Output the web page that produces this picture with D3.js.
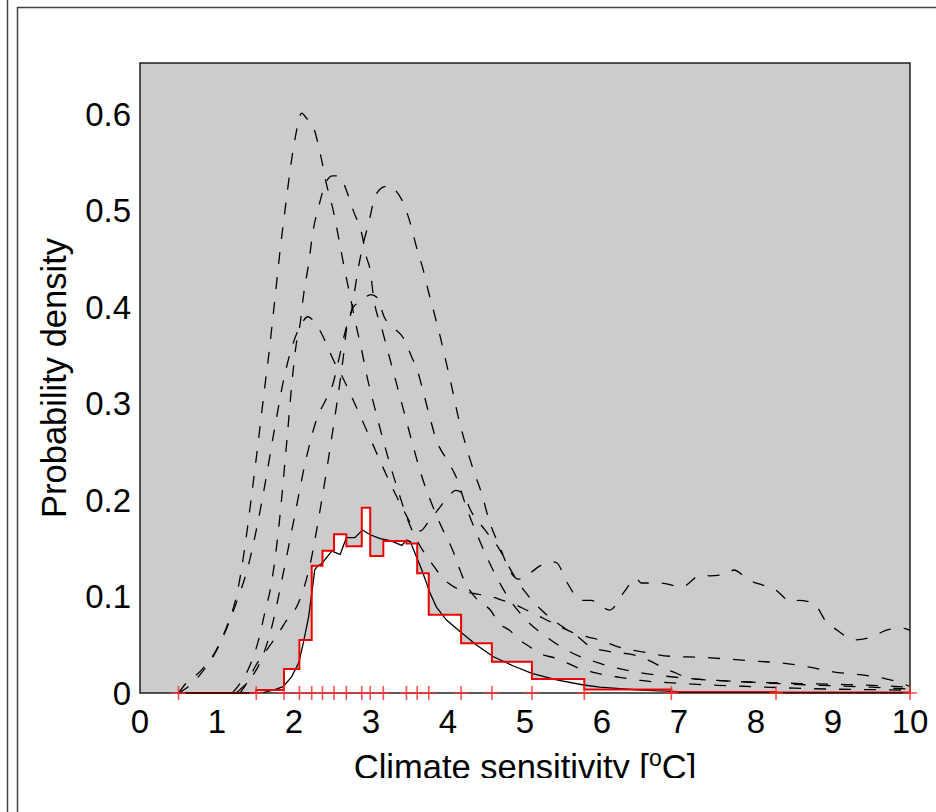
<!DOCTYPE html>
<html><head><meta charset="utf-8">
<script src="https://cdn.jsdelivr.net/npm/d3@7"></script>
<style>body{margin:0;background:#fff}svg{display:block}text{font-family:"Liberation Sans",Arial,sans-serif;fill:#000}</style>
</head><body>
<svg id="c" width="936" height="812"></svg>
<script>
// ---- data ----
const xTicks = [0,1,2,3,4,5,6,7,8,9,10];
const yTicks = [0,0.1,0.2,0.3,0.4,0.5,0.6];
const yTickLabels = ["0","0.1","0.2","0.3","0.4","0.5","0.6"];
const binEdges = [0.5,1.51,1.87,2.07,2.23,2.37,2.52,2.68,2.88,2.99,3.16,3.46,3.60,3.75,4.17,4.57,5.09,5.77,6.90,8.26,10.0];
const binValues = [0,0.003,0.025,0.055,0.132,0.1475,0.1645,0.152,0.192,0.142,0.1575,0.155,0.124,0.081,0.0515,0.0325,0.0145,0.0035,0.001,0.0005];
const fitCurve = [[1.5,0],[1.6,0.0005],[1.73,0.003],[1.86,0.0065],[1.97,0.017],[2.06,0.031],[2.12,0.0515],[2.19,0.079],[2.23,0.103],[2.27,0.128],[2.32,0.1325],[2.36,0.134],[2.42,0.14],[2.49,0.147],[2.6,0.1437],[2.68,0.161],[2.79,0.161],[2.89,0.169],[2.99,0.164],[3.12,0.16],[3.25,0.158],[3.4,0.153],[3.46,0.1585],[3.51,0.157],[3.57,0.145],[3.66,0.1275],[3.77,0.103],[3.85,0.089],[3.98,0.0756],[4.16,0.0635],[4.37,0.0497],[4.59,0.0376],[4.85,0.028],[5.09,0.0204],[5.41,0.0135],[5.76,0.0083],[5.97,0.006],[6.5,0.003],[7,0.0015],[8,0.0005],[10,0.0001]];
const curveA = [[0.5,0],[0.56,0.0065],[0.8,0.024],[1.0,0.046],[1.15,0.074],[1.26,0.103],[1.35,0.145],[1.45,0.205],[1.55,0.27],[1.62,0.317],[1.67,0.349],[1.75,0.407],[1.82,0.459],[1.9,0.511],[1.95,0.542],[2.01,0.573],[2.1,0.601],[2.16,0.596],[2.25,0.587],[2.36,0.552],[2.42,0.528],[2.51,0.5],[2.6,0.463],[2.66,0.438],[2.73,0.411],[2.79,0.387],[2.88,0.355],[2.94,0.331],[3.05,0.295],[3.2,0.25],[3.35,0.21],[3.5,0.175],[3.64,0.152],[3.73,0.141],[3.82,0.131],[3.93,0.119],[4.04,0.112],[4.22,0.105],[4.35,0.103],[4.55,0.1],[4.71,0.096],[4.89,0.091],[5.02,0.086],[5.25,0.077],[5.5,0.067],[5.64,0.062],[5.82,0.058],[5.97,0.055],[6.2,0.048],[6.5,0.043],[6.9,0.038],[7.3,0.037],[7.66,0.035],[8.0,0.033],[8.35,0.031],[8.68,0.027],[9.0,0.022],[9.35,0.019],[9.7,0.0145],[9.9,0.01],[10,0.0065]];
const curveB = [[1.2,0],[1.3,0.01],[1.43,0.029],[1.54,0.055],[1.62,0.083],[1.71,0.115],[1.8,0.17],[1.9,0.255],[1.99,0.335],[2.03,0.362],[2.08,0.383],[2.12,0.41],[2.19,0.445],[2.25,0.48],[2.32,0.504],[2.42,0.53],[2.5,0.536],[2.58,0.536],[2.62,0.533],[2.68,0.521],[2.77,0.5],[2.88,0.476],[2.94,0.452],[2.99,0.438],[3.03,0.412],[3.15,0.375],[3.3,0.33],[3.45,0.285],[3.55,0.255],[3.65,0.227],[3.77,0.2],[3.9,0.175],[4.05,0.15],[4.22,0.115],[4.4,0.095],[4.55,0.086],[4.66,0.0725],[4.8,0.065],[4.93,0.055],[5.06,0.048],[5.19,0.041],[5.4,0.036],[5.55,0.031],[5.7,0.0256],[5.86,0.022],[6.04,0.0187],[6.2,0.0166],[6.5,0.013],[7.0,0.01],[7.5,0.008],[8,0.0065],[8.5,0.005],[9,0.004],[9.5,0.0035],[10,0.003]];
const curveC = [[1.3,0],[1.4,0.012],[1.5,0.028],[1.65,0.045],[1.8,0.062],[1.9,0.075],[2.05,0.092],[2.2,0.13],[2.35,0.195],[2.5,0.27],[2.6,0.324],[2.64,0.348],[2.68,0.376],[2.75,0.397],[2.79,0.418],[2.83,0.438],[2.9,0.466],[2.97,0.487],[3.05,0.514],[3.15,0.524],[3.25,0.526],[3.33,0.52],[3.42,0.508],[3.51,0.487],[3.59,0.4625],[3.68,0.438],[3.74,0.418],[3.81,0.397],[3.9,0.369],[3.98,0.3415],[4.05,0.317],[4.13,0.287],[4.22,0.26],[4.33,0.231],[4.44,0.206],[4.53,0.18],[4.69,0.148],[4.8,0.127],[4.92,0.118],[5.06,0.124],[5.2,0.132],[5.35,0.136],[5.41,0.135],[5.55,0.114],[5.73,0.096],[5.86,0.096],[6.1,0.086],[6.29,0.105],[6.44,0.119],[6.51,0.114],[6.75,0.114],[7.04,0.11],[7.28,0.122],[7.4,0.1215],[7.64,0.124],[7.71,0.1275],[7.91,0.117],[8.08,0.112],[8.22,0.1085],[8.48,0.094],[8.55,0.096],[8.75,0.093],[8.91,0.074],[9.02,0.067],[9.3,0.055],[9.5,0.058],[9.73,0.066],[9.9,0.067],[10,0.065]];
const curveD = [[1.25,0],[1.4,0.012],[1.55,0.03],[1.7,0.065],[1.85,0.12],[2.0,0.18],[2.15,0.24],[2.3,0.285],[2.42,0.305],[2.5,0.319],[2.58,0.345],[2.66,0.373],[2.77,0.4],[2.85,0.405],[3.0,0.413],[3.08,0.41],[3.17,0.39],[3.3,0.378],[3.42,0.368],[3.53,0.348],[3.6,0.335],[3.66,0.318],[3.75,0.29],[3.85,0.262],[4.0,0.24],[4.1,0.225],[4.25,0.19],[4.4,0.16],[4.6,0.125],[4.8,0.097],[5.0,0.077],[5.3,0.057],[5.6,0.042],[6.0,0.03],[6.5,0.021],[7,0.016],[7.5,0.013],[8,0.011],[8.5,0.01],[9,0.009],[9.5,0.008],[10,0.006]];
const curveE = [[0.5,0],[0.6,0.005],[0.78,0.019],[1.02,0.048],[1.17,0.076],[1.28,0.1],[1.39,0.127],[1.5,0.165],[1.62,0.215],[1.75,0.275],[1.88,0.33],[2.0,0.365],[2.1,0.383],[2.18,0.39],[2.27,0.384],[2.38,0.369],[2.44,0.358],[2.53,0.342],[2.6,0.332],[2.8,0.298],[3.0,0.262],[3.2,0.226],[3.42,0.19],[3.55,0.172],[3.64,0.168],[3.75,0.178],[3.87,0.19],[4.0,0.203],[4.1,0.21],[4.2,0.206],[4.29,0.19],[4.48,0.169],[4.66,0.15],[4.84,0.124],[5.0,0.105],[5.2,0.087],[5.5,0.068],[5.69,0.058],[5.85,0.048],[6.1,0.043],[6.44,0.039],[6.6,0.034],[6.8,0.026],[6.95,0.021],[7.15,0.015],[7.5,0.013],[8.0,0.011],[8.5,0.009],[9,0.0075],[9.5,0.006],[10,0.004]];
const dashedCurves = [curveA, curveB, curveC, curveD, curveE];

// ---- layout ----
const svg = d3.select("#c");
const L = 140, R = 910, T = 63, B = 693;
const x = d3.scaleLinear().domain([0,10]).range([L,R]);
const y = d3.scaleLinear().domain([0,0.653]).range([B,T]);

// outer frame lines
svg.append("line").attr("x1",7.5).attr("x2",7.5).attr("y1",0).attr("y2",812).attr("stroke","#444").attr("stroke-width",1.5);
svg.append("path").attr("d","M17.5,812V7.5H936").attr("fill","none").attr("stroke","#444").attr("stroke-width",1.5);

const defs = svg.append("defs");
defs.append("clipPath").attr("id","plot").append("rect").attr("x",L).attr("y",T).attr("width",R-L).attr("height",B-T);
defs.append("clipPath").attr("id","xt").append("rect").attr("x",0).attr("y",0).attr("width",936).attr("height",778);

svg.append("rect").attr("x",L).attr("y",T).attr("width",R-L).attr("height",B-T).attr("fill","#cccccc");

const g = svg.append("g").attr("clip-path","url(#plot)");

// histogram
const histPts = binValues.map((v,i)=>[binEdges[i],v]);
histPts.push([binEdges[binEdges.length-1], binValues[binValues.length-1]]);
g.append("path").datum(histPts)
  .attr("d", d3.area().x(d=>x(d[0])).y0(y(0)).y1(d=>y(d[1])).curve(d3.curveStepAfter))
  .attr("fill","#fff");

// dashed curves
const lineGen = d3.line().x(d=>x(d[0])).y(d=>y(d[1])).curve(d3.curveMonotoneX);
g.selectAll("path.dash").data(dashedCurves).join("path").attr("class","dash")
  .attr("d", lineGen).attr("fill","none").attr("stroke","#000").attr("stroke-width",1.3).attr("stroke-dasharray","12,13");

// fitted curve
g.append("path").datum(fitCurve).attr("d", d3.line().x(d=>x(d[0])).y(d=>y(d[1])))
  .attr("fill","none").attr("stroke","#000").attr("stroke-width",1.3);

// histogram outline
const outline = [[binEdges[0],0], ...histPts, [binEdges[binEdges.length-1],0]];
svg.append("path").datum(outline)
  .attr("d", d3.line().x(d=>x(d[0])).y(d=>y(d[1])).curve(d3.curveStepAfter))
  .attr("fill","none").attr("stroke","#e00").attr("stroke-width",2);

// border
svg.append("rect").attr("x",L).attr("y",T).attr("width",R-L).attr("height",B-T).attr("fill","none").attr("stroke","#000").attr("stroke-width",1.3);

// plus markers at bin edges
const plus = svg.append("g").attr("stroke","#f33").attr("stroke-width",1.6).attr("stroke-opacity",0.85);
binEdges.forEach(e=>{
  plus.append("line").attr("x1",x(e)).attr("x2",x(e)).attr("y1",y(0)-7).attr("y2",y(0)+7);
  plus.append("line").attr("x1",x(e)-7).attr("x2",x(e)+7).attr("y1",y(0)).attr("y2",y(0));
});

// tick labels
svg.selectAll("text.xt").data(xTicks).join("text").attr("class","xt")
  .attr("x",d=>x(d)).attr("y",733).attr("text-anchor","middle").attr("font-size",33).text(d=>d);
svg.selectAll("text.yt").data(yTicks).join("text").attr("class","yt")
  .attr("x",131).attr("y",d=>y(d)+11.5).attr("text-anchor","end").attr("font-size",33).text((d,i)=>yTickLabels[i]);

// axis titles
const xt = svg.append("text").attr("clip-path","url(#xt)").attr("x",525).attr("y",779).attr("text-anchor","middle").attr("font-size",34.5);
xt.append("tspan").text("Climate sensitivity [");
xt.append("tspan").attr("font-size",23).attr("dy",-13).text("o");
xt.append("tspan").attr("dy",13).text("C]");

svg.append("text").attr("transform","translate(66,378) rotate(-90)").attr("text-anchor","middle").attr("font-size",34.5).text("Probability density");
</script>
</body></html>
